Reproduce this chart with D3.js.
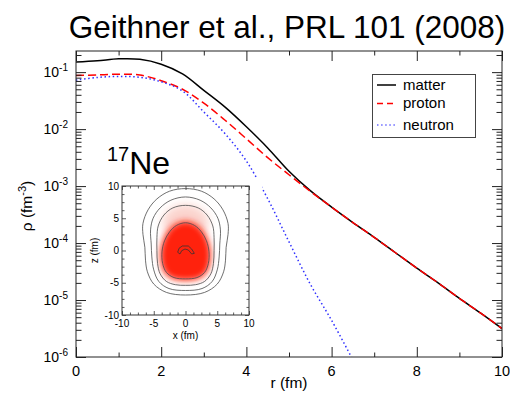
<!DOCTYPE html>
<html>
<head>
<meta charset="utf-8">
<script src="https://cdn.jsdelivr.net/npm/d3@7"></script>
<style>
  body { margin: 0; background: #fff; }
  svg { font-family: "Liberation Sans", Arial, sans-serif; }
</style>
</head>
<body>
<div id="chart"></div>
<script>
// radial grid (fm) and densities (fm^-3)
const rValues = [0, 0.5, 1, 1.5, 2, 2.5, 3, 3.5, 4, 4.5, 5, 5.5, 6, 6.5, 7, 7.5, 8, 8.5, 9, 9.5, 10];
const matterDensity = [0.150, 0.158, 0.171, 0.168, 0.138, 0.0933, 0.0479, 0.0243, 0.0110, 4.68e-3, 1.82e-3,
    8.3e-4, 4.27e-4, 2.29e-4, 1.26e-4, 6.76e-5, 3.63e-5, 2.0e-5, 1.07e-5, 5.9e-6, 3.16e-6];
const protonDensity = [0.0871, 0.0895, 0.0918, 0.0891, 0.0708, 0.0501, 0.0285, 0.0143, 6.76e-3, 3.16e-3, 1.58e-3,
    8.1e-4, 4.27e-4, 2.29e-4, 1.26e-4, 6.76e-5, 3.63e-5, 2.0e-5, 1.07e-5, 5.9e-6, 3.16e-6];
const rNeutron = [0, 0.5, 1, 1.5, 2, 2.5, 3, 3.5, 4, 4.5, 5, 5.5, 6, 6.5];
const neutronDensity = [0.0724, 0.0807, 0.0841, 0.0813, 0.0676, 0.0468, 0.0200, 8.3e-3, 2.75e-3, 6.0e-4,
    1.05e-4, 1.9e-5, 4.4e-6, 8.9e-7];

const seriesNames = ["matter", "proton", "neutron"];
const xTicks = [0, 2, 4, 6, 8, 10];
const xMinorTicks = [1, 3, 5, 7, 9];
const yTickExponents = [-1, -2, -3, -4, -5, -6];

// inset: density contours in the x-z plane (fm)
const contourOuter = [[0,9.6],[2.5,9.2],[4.5,8.0],[5.9,6.3],[6.7,4.2],[6.7,2.5],[6.4,0.5],[6.3,-1.5],[6.0,-3.3],[5.0,-5.2],[3.0,-6.5],[0,-6.9],
    [-3.0,-6.5],[-5.0,-5.2],[-6.0,-3.3],[-6.3,-1.5],[-6.4,0.5],[-6.7,2.5],[-6.7,4.2],[-5.9,6.3],[-4.5,8.0],[-2.5,9.2]];
const contourThird = [[0,8.3],[2.3,7.8],[4.0,6.6],[5.1,5.0],[5.5,3.2],[5.4,1.0],[5.3,-1.0],[5.0,-3.0],[4.2,-4.8],[2.6,-5.9],[0,-6.2],
    [-2.6,-5.9],[-4.2,-4.8],[-5.0,-3.0],[-5.3,-1.0],[-5.4,1.0],[-5.5,3.2],[-5.1,5.0],[-4.0,6.6],[-2.3,7.8]];
const contourSecond = [[0,7.0],[2.0,6.6],[3.4,5.5],[4.3,3.8],[4.5,2.0],[4.5,0],[4.4,-2.0],[4.0,-3.6],[3.0,-4.8],[1.6,-5.3],[0,-5.4],
    [-1.6,-5.3],[-3.0,-4.8],[-4.0,-3.6],[-4.4,-2.0],[-4.5,0],[-4.5,2.0],[-4.3,3.8],[-3.4,5.5],[-2.0,6.6]];
const contourCore = [[0,4.3],[1.4,3.9],[2.5,2.9],[3.3,1.5],[3.7,-0.2],[3.6,-2.0],[3.0,-3.4],[1.8,-4.2],[0,-4.4],
    [-1.8,-4.2],[-3.0,-3.4],[-3.6,-2.0],[-3.7,-0.2],[-3.3,1.5],[-2.5,2.9],[-1.4,3.9]];
const contourPeak = [[-1.23,-0.28],[-1.02,0.34],[-0.5,0.70],[0.44,0.70],[0.97,0.23],[1.39,-0.44],[0.97,-0.54],
    [0.44,0.08],[-0.08,0.23],[-0.6,-0.03],[-0.87,-0.54]];
const haloCenter = [0, 4.3];
const insetTicks = [-10, -5, 0, 5, 10];
const insetMinorTicks = [-8.75, -7.5, -6.25, -3.75, -2.5, -1.25, 1.25, 2.5, 3.75, 6.25, 7.5, 8.75];

class DensityChart {
    constructor(parentElement) {
        this.parentElement = parentElement;
        this.initVis();
    }

    initVis() {
        let vis = this;

        vis.margin = {top: 51, right: 8, bottom: 36, left: 76};
        vis.width = 510 - vis.margin.left - vis.margin.right;
        vis.height = 393 - vis.margin.top - vis.margin.bottom;

        vis.root = d3.select("#" + vis.parentElement).append("svg")
            .attr("width", 510)
            .attr("height", 393);

        vis.svg = vis.root.append("g")
            .attr("transform", "translate(" + vis.margin.left + "," + vis.margin.top + ")");

        vis.x = d3.scaleLinear().domain([0, 10]).range([0, vis.width]);
        vis.y = d3.scaleLog().domain([1e-6, 0.235]).range([vis.height, 0]);

        vis.root.append("text")
            .text("Geithner et al., PRL 101 (2008)")
            .attr("x", 287)
            .attr("y", 38)
            .attr("text-anchor", "middle")
            .attr("font-size", 31.5);

        vis.svg.append("clipPath").attr("id", "plotClip")
            .append("rect").attr("width", vis.width).attr("height", vis.height);

        vis.drawLines();
        vis.drawAxes();
        vis.drawLegend();
        vis.drawInset();
    }

    drawLines() {
        let vis = this;

        let line = d3.line()
            .x(d => vis.x(d[0]))
            .y(d => vis.y(d[1]))
            .curve(d3.curveCatmullRom.alpha(0.5));

        let matter = rValues.map((r, i) => [r, matterDensity[i]]);
        let proton = rValues.map((r, i) => [r, protonDensity[i]]);
        let neutron = rNeutron.map((r, i) => [r, neutronDensity[i]]);

        let g = vis.svg.append("g").attr("clip-path", "url(#plotClip)");

        g.append("path").datum(matter)
            .attr("d", line)
            .attr("fill", "none")
            .attr("stroke", "#000")
            .attr("stroke-width", 1.5);

        g.append("path").datum(proton)
            .attr("d", line)
            .attr("fill", "none")
            .attr("stroke", "#ff0000")
            .attr("stroke-width", 1.5)
            .attr("stroke-dasharray", "8,4");

        g.append("path").datum(neutron)
            .attr("d", line)
            .attr("fill", "none")
            .attr("stroke", "#2f2fff")
            .attr("stroke-width", 1.5)
            .attr("stroke-dasharray", "1.5,2.6");
    }

    drawAxes() {
        let vis = this;

        let yMinor = [];
        yTickExponents.forEach(e => {
            for (let m = 2; m <= 9; m++) {
                let v = m * Math.pow(10, e);
                if (v < vis.y.domain()[1]) yMinor.push(v);
            }
        });
        let yMajor = yTickExponents.map(e => Math.pow(10, e));

        let addAxis = (axis, transform) => {
            let g = vis.svg.append("g").attr("transform", transform).call(axis);
            g.select(".domain").remove();
            g.selectAll("line").attr("stroke", "#222");
            return g;
        };

        addAxis(d3.axisBottom(vis.x).tickValues(xTicks).tickSize(-10).tickFormat(""), "translate(0," + vis.height + ")");
        addAxis(d3.axisBottom(vis.x).tickValues(xMinorTicks).tickSize(-4.5).tickFormat(""), "translate(0," + vis.height + ")");
        addAxis(d3.axisTop(vis.x).tickValues(xTicks).tickSize(-10).tickFormat(""), "translate(0,0)");
        addAxis(d3.axisTop(vis.x).tickValues(xMinorTicks).tickSize(-4.5).tickFormat(""), "translate(0,0)");
        addAxis(d3.axisLeft(vis.y).tickValues(yMajor).tickSize(-10).tickFormat(""), "translate(0,0)");
        addAxis(d3.axisLeft(vis.y).tickValues(yMinor).tickSize(-5.5).tickFormat(""), "translate(0,0)");
        addAxis(d3.axisRight(vis.y).tickValues(yMajor).tickSize(-10).tickFormat(""), "translate(" + vis.width + ",0)");
        addAxis(d3.axisRight(vis.y).tickValues(yMinor).tickSize(-5.5).tickFormat(""), "translate(" + vis.width + ",0)");

        vis.svg.append("rect")
            .attr("width", vis.width)
            .attr("height", vis.height)
            .attr("fill", "none")
            .attr("stroke", "#222")
            .attr("stroke-width", 1);

        // x tick labels
        vis.svg.selectAll(".xlab").data(xTicks).enter().append("text")
            .attr("class", "xlab")
            .text(d => d)
            .attr("x", d => vis.x(d))
            .attr("y", vis.height + 18.5)
            .attr("text-anchor", "middle")
            .attr("font-size", 14.5);

        // y tick labels with exponents
        let ylab = vis.svg.selectAll(".ylab").data(yTickExponents).enter().append("text")
            .attr("class", "ylab")
            .attr("x", -8)
            .attr("y", d => vis.y(Math.pow(10, d)) + 5)
            .attr("text-anchor", "end")
            .attr("font-size", 14);
        ylab.append("tspan").text("10");
        ylab.append("tspan").text(d => d)
            .attr("font-size", 10)
            .attr("dy", -6);

        vis.root.append("text")
            .text("r (fm)")
            .attr("x", vis.margin.left + vis.width / 2)
            .attr("y", 388)
            .attr("text-anchor", "middle")
            .attr("font-size", 15.5);

        let ytitle = vis.root.append("text")
            .attr("transform", "translate(32,206) rotate(-90)")
            .attr("text-anchor", "middle")
            .attr("font-size", 15.5);
        ytitle.append("tspan").text("\u03c1 (fm");
        ytitle.append("tspan").text("-3").attr("font-size", 11).attr("dy", -6);
        ytitle.append("tspan").text(")").attr("dy", 6);
    }

    drawLegend() {
        let vis = this;
        let styles = [
            {color: "#000", dash: null},
            {color: "#ff0000", dash: "6,4"},
            {color: "#6a6aff", dash: "1.5,2.6"}
        ];
        let rowY = [85, 103.5, 125];

        vis.root.append("rect")
            .attr("x", 372.5).attr("y", 74.5)
            .attr("width", 103).attr("height", 63)
            .attr("fill", "#fff")
            .attr("stroke", "#444")
            .attr("stroke-width", 1);

        let rows = vis.root.selectAll(".legendRow").data(seriesNames).enter().append("g")
            .attr("class", "legendRow")
            .attr("transform", (d, i) => "translate(0," + rowY[i] + ")");

        rows.append("line")
            .attr("x1", 377).attr("x2", 396)
            .attr("stroke", (d, i) => styles[i].color)
            .attr("stroke-width", 1.5)
            .attr("stroke-dasharray", (d, i) => styles[i].dash);

        rows.append("text")
            .text(d => d)
            .attr("x", 403)
            .attr("y", 4.5)
            .attr("font-size", 15);

        let label = vis.root.append("text")
            .attr("x", 107)
            .attr("y", 174)
            .attr("font-size", 32);
        label.append("tspan").text("17").attr("font-size", 20).attr("dy", -13);
        label.append("tspan").text("Ne").attr("dy", 13);
    }

    drawInset() {
        let vis = this;

        let ix = d3.scaleLinear().domain([-10, 10]).range([122, 249]);
        let iy = d3.scaleLinear().domain([-10, 10]).range([315, 186]);

        let inset = vis.root.append("g");

        inset.append("rect")
            .attr("x", 88).attr("y", 178)
            .attr("width", 174).attr("height", 166)
            .attr("fill", "#fff");

        let defs = inset.append("defs");
        defs.append("filter").attr("id", "blurCore")
            .attr("x", "-50%").attr("y", "-50%").attr("width", "200%").attr("height", "200%")
            .append("feGaussianBlur").attr("stdDeviation", 3.2);
        defs.append("filter").attr("id", "blurHalo")
            .attr("x", "-50%").attr("y", "-50%").attr("width", "200%").attr("height", "200%")
            .append("feGaussianBlur").attr("stdDeviation", 5);
        defs.append("clipPath").attr("id", "insetClip")
            .append("rect").attr("x", 122).attr("y", 186).attr("width", 127).attr("height", 129);

        let closed = d3.line()
            .x(d => ix(d[0]))
            .y(d => iy(d[1]))
            .curve(d3.curveCatmullRomClosed.alpha(0.5));

        let shade = inset.append("g").attr("clip-path", "url(#insetClip)");

        shade.append("ellipse")
            .attr("cx", ix(haloCenter[0]))
            .attr("cy", iy(haloCenter[1]))
            .attr("rx", ix(3.6) - ix(0))
            .attr("ry", iy(0) - iy(2.8))
            .attr("fill", "#fbd3cc")
            .attr("filter", "url(#blurHalo)");

        shade.append("path").datum(contourCore)
            .attr("d", closed)
            .attr("fill", "#ff2410")
            .attr("stroke", "#ff2410")
            .attr("stroke-width", 3)
            .attr("filter", "url(#blurCore)");

        let contours = [contourOuter, contourThird, contourSecond, contourCore];
        inset.selectAll(".contour").data(contours).enter().append("path")
            .attr("class", "contour")
            .attr("d", closed)
            .attr("fill", "none")
            .attr("stroke", "#4a4a4a")
            .attr("stroke-width", 0.8);

        inset.append("path").datum(contourPeak)
            .attr("d", d3.line().x(d => ix(d[0])).y(d => iy(d[1])).curve(d3.curveLinearClosed))
            .attr("fill", "none")
            .attr("stroke", "#333")
            .attr("stroke-width", 0.8);

        let addAxis = (axis, transform) => {
            let g = inset.append("g").attr("transform", transform).call(axis);
            g.select(".domain").remove();
            g.selectAll("line").attr("stroke", "#333").attr("stroke-width", 0.8);
        };
        addAxis(d3.axisBottom(ix).tickValues(insetTicks).tickSize(-4).tickFormat(""), "translate(0,315)");
        addAxis(d3.axisBottom(ix).tickValues(insetMinorTicks).tickSize(-2.5).tickFormat(""), "translate(0,315)");
        addAxis(d3.axisTop(ix).tickValues(insetTicks).tickSize(-4).tickFormat(""), "translate(0,186)");
        addAxis(d3.axisTop(ix).tickValues(insetMinorTicks).tickSize(-2.5).tickFormat(""), "translate(0,186)");
        addAxis(d3.axisLeft(iy).tickValues(insetTicks).tickSize(-4).tickFormat(""), "translate(122,0)");
        addAxis(d3.axisLeft(iy).tickValues(insetMinorTicks).tickSize(-2.5).tickFormat(""), "translate(122,0)");
        addAxis(d3.axisRight(iy).tickValues(insetTicks).tickSize(-4).tickFormat(""), "translate(249,0)");
        addAxis(d3.axisRight(iy).tickValues(insetMinorTicks).tickSize(-2.5).tickFormat(""), "translate(249,0)");

        inset.append("rect")
            .attr("x", 122).attr("y", 186)
            .attr("width", 127).attr("height", 129)
            .attr("fill", "none")
            .attr("stroke", "#333")
            .attr("stroke-width", 1);

        inset.selectAll(".ixlab").data(insetTicks).enter().append("text")
            .attr("class", "ixlab")
            .text(d => d)
            .attr("x", d => ix(d))
            .attr("y", 326.5)
            .attr("text-anchor", "middle")
            .attr("font-size", 10);

        inset.selectAll(".iylab").data(insetTicks).enter().append("text")
            .attr("class", "iylab")
            .text(d => d)
            .attr("x", 119)
            .attr("y", d => iy(d) + 3.6)
            .attr("text-anchor", "end")
            .attr("font-size", 10);

        inset.append("text")
            .text("x (fm)")
            .attr("x", ix(0))
            .attr("y", 338.5)
            .attr("text-anchor", "middle")
            .attr("font-size", 10);

        inset.append("text")
            .text("z (fm)")
            .attr("transform", "translate(98," + iy(0) + ") rotate(-90)")
            .attr("text-anchor", "middle")
            .attr("font-size", 10);
    }
}

new DensityChart("chart");
</script>
</body>
</html>
